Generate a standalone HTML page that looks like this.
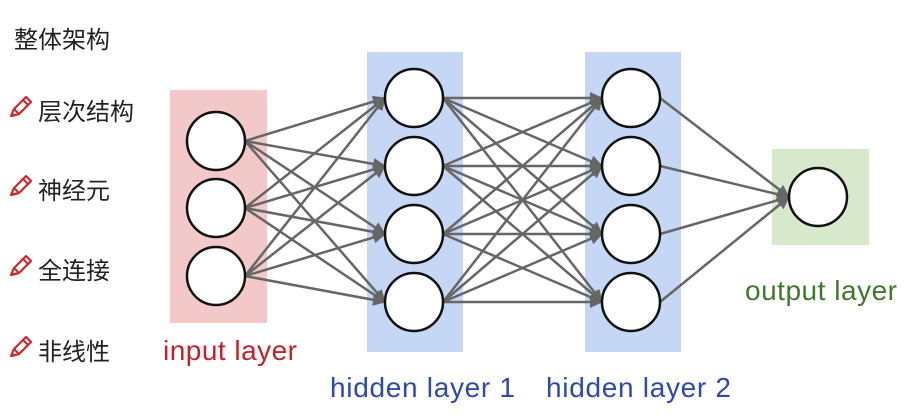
<!DOCTYPE html>
<html><head><meta charset="utf-8"><style>
body{margin:0;background:#fff;width:906px;height:416px;overflow:hidden;font-family:"Liberation Sans","Noto Sans CJK SC",sans-serif}
.t{position:absolute;font-size:24px;color:#222;font-family:"Liberation Sans","Noto Sans CJK SC",sans-serif}
</style></head><body>
<svg width="906" height="416" style="position:absolute;left:0;top:0">
<defs><marker id="a" markerWidth="13" markerHeight="12" refX="12" refY="6" orient="auto" markerUnits="userSpaceOnUse"><path d="M0,0 L13,6 L0,12 z" fill="#666"/></marker>
<g id="pen"><path d="M3,20 L6,13 L18,1 L23,6 L11,18 Z" fill="none" stroke="#d0262e" stroke-width="2.2" stroke-linejoin="round"/><path d="M6,13 L11,18 M15,4 L20,9" stroke="#d0262e" stroke-width="2"/><path d="M3,20 L4,16 L7,19 Z" fill="#d0262e"/></g></defs>
<rect x="170" y="90" width="97" height="233" fill="#f2c8c8"/>
<rect x="367" y="52" width="96" height="300" fill="#c6d7f5"/>
<rect x="585" y="52" width="96" height="300" fill="#c6d7f5"/>
<rect x="772" y="149" width="97" height="96" fill="#d7e8cd"/>
<g stroke="#666" stroke-width="2.5" marker-end="url(#a)">
<line x1="245" y1="141" x2="385" y2="98"/><line x1="245" y1="141" x2="385" y2="166"/><line x1="245" y1="141" x2="385" y2="234"/><line x1="245" y1="141" x2="385" y2="302"/>
<line x1="245" y1="208" x2="385" y2="98"/><line x1="245" y1="208" x2="385" y2="166"/><line x1="245" y1="208" x2="385" y2="234"/><line x1="245" y1="208" x2="385" y2="302"/>
<line x1="245" y1="276" x2="385" y2="98"/><line x1="245" y1="276" x2="385" y2="166"/><line x1="245" y1="276" x2="385" y2="234"/><line x1="245" y1="276" x2="385" y2="302"/>
<line x1="443" y1="98" x2="602" y2="98"/><line x1="443" y1="98" x2="602" y2="166"/><line x1="443" y1="98" x2="602" y2="234"/><line x1="443" y1="98" x2="602" y2="302"/>
<line x1="443" y1="166" x2="602" y2="98"/><line x1="443" y1="166" x2="602" y2="166"/><line x1="443" y1="166" x2="602" y2="234"/><line x1="443" y1="166" x2="602" y2="302"/>
<line x1="443" y1="234" x2="602" y2="98"/><line x1="443" y1="234" x2="602" y2="166"/><line x1="443" y1="234" x2="602" y2="234"/><line x1="443" y1="234" x2="602" y2="302"/>
<line x1="443" y1="302" x2="602" y2="98"/><line x1="443" y1="302" x2="602" y2="166"/><line x1="443" y1="302" x2="602" y2="234"/><line x1="443" y1="302" x2="602" y2="302"/>
<line x1="660" y1="98" x2="789" y2="197"/><line x1="660" y1="166" x2="789" y2="197"/><line x1="660" y1="234" x2="789" y2="197"/><line x1="660" y1="302" x2="789" y2="197"/>
</g>
<g fill="#fff" stroke="#111" stroke-width="2.5">
<circle cx="216" cy="141" r="29"/><circle cx="216" cy="208" r="29"/><circle cx="216" cy="276" r="29"/>
<circle cx="414" cy="98" r="29"/><circle cx="414" cy="166" r="29"/><circle cx="414" cy="234" r="29"/><circle cx="414" cy="302" r="29"/>
<circle cx="631" cy="98" r="29"/><circle cx="631" cy="166" r="29"/><circle cx="631" cy="234" r="29"/><circle cx="631" cy="302" r="29"/>
<circle cx="818" cy="197" r="29"/>
</g>
<use href="#pen" x="8" y="96"/><use href="#pen" x="8" y="175"/><use href="#pen" x="8" y="255"/><use href="#pen" x="8" y="336"/>
<g font-family="Liberation Sans, sans-serif" font-size="28">
<text x="163" y="360" fill="#c8202a" textLength="134">input layer</text>
<text x="330" y="397" fill="#2f48b0" textLength="185">hidden layer 1</text>
<text x="546" y="397" fill="#2f48b0" textLength="185">hidden layer 2</text>
<text x="745" y="300" fill="#3f7a2a" textLength="152">output layer</text>
</g>
</svg>
<div class="t" style="left:14px;top:20px">整体架构</div>
<div class="t" style="left:38px;top:92px">层次结构</div>
<div class="t" style="left:38px;top:171px">神经元</div>
<div class="t" style="left:38px;top:251px">全连接</div>
<div class="t" style="left:38px;top:332px">非线性</div>
</body></html>
